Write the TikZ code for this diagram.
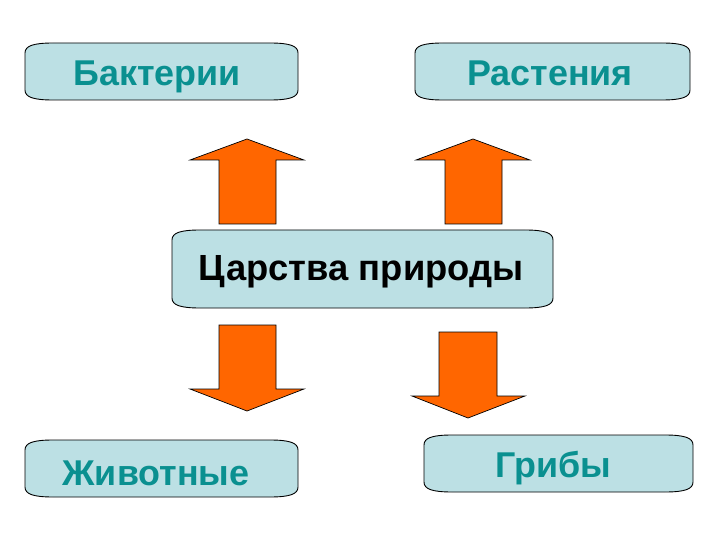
\documentclass[tikz,border=0pt]{standalone}
\usepackage{fontspec}
\setmainfont{Liberation Sans}
\definecolor{boxfill}{HTML}{BCE0E4}
\definecolor{tealtext}{HTML}{0A9090}
\definecolor{arroworange}{HTML}{FF6600}
\newcommand\kbox[4]{%
  \draw[boxline] (#1,{#2+10}) .. controls (#1,{#2+3}) and ({#1+8},#2) .. ({#1+28},#2)
    -- ({#3-28},#2) .. controls ({#3-8},#2) and (#3,{#2+3}) .. (#3,{#2+10})
    -- (#3,{#4-10}) .. controls (#3,{#4-3}) and ({#3-8},#4) .. ({#3-28},#4)
    -- ({#1+28},#4) .. controls ({#1+8},#4) and (#1,{#4-3}) .. (#1,{#4-10}) -- cycle;}
\tikzset{
  boxline/.style={draw=black, line width=0.9bp, fill=boxfill},
  kingdom/.style={font=\fontsize{36}{40}\selectfont\bfseries, text=tealtext, inner sep=0pt, anchor=base},
  mainlabel/.style={font=\fontsize{36.5}{40}\selectfont\bfseries, text=black, inner sep=0pt, anchor=base},
  blockarrow/.style={draw=black, line width=0.7bp, fill=arroworange, line join=miter}
}
\begin{document}
\begin{tikzpicture}[x=1bp,y=-1bp]
\useasboundingbox (0,0) rectangle (720,540);
% boxes
\kbox{25}{43}{298}{100}
\node[kingdom] (bact) at (157,86) {Бактерии};
\kbox{415}{43}{690}{100}
\node[kingdom] (rast) at (550,86) {Растения};
\kbox{172}{230}{553}{308}
\node[mainlabel] (main) at (361,281) {Царства природы};
\kbox{25}{440}{298}{497}
\node[kingdom] (zhiv) at (156,485) {Животные};
\kbox{424}{435}{693}{492}
\node[kingdom] (grib) at (553,477) {Грибы};
% arrows up
\draw[blockarrow] (219,224) -- (219,160) -- (190,160) -- (247,139) -- (304,160) -- (276,160) -- (276,224) -- cycle;
\draw[blockarrow] (445,224) -- (445,160) -- (416,160) -- (473,139) -- (530,160) -- (502,160) -- (502,224) -- cycle;
% arrows down
\draw[blockarrow] (219,325) -- (219,389) -- (190,389) -- (247,411) -- (304,389) -- (276,389) -- (276,325) -- cycle;
\draw[blockarrow] (439,332) -- (439,396) -- (412,396) -- (468,418) -- (525,396) -- (497,396) -- (497,332) -- cycle;
\end{tikzpicture}
\end{document}
